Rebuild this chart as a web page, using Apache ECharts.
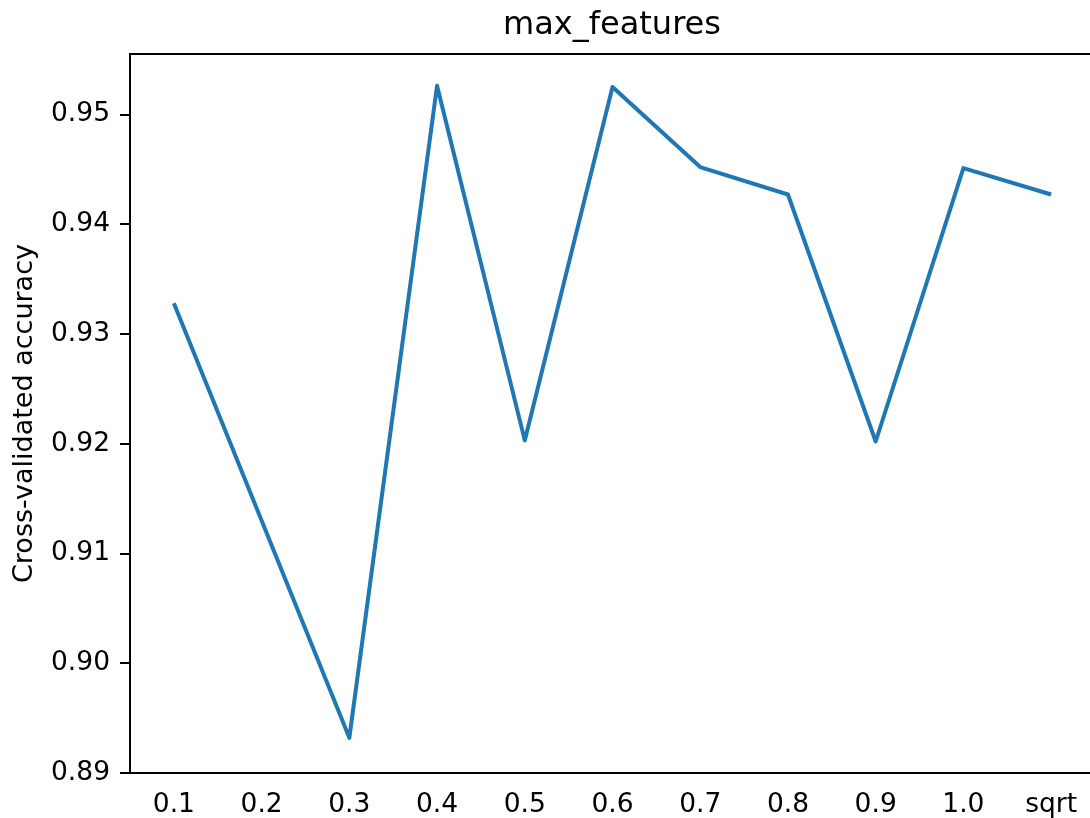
<!DOCTYPE html>
<html>
<head>
<meta charset="utf-8">
<script src="https://cdn.jsdelivr.net/npm/echarts@6/dist/echarts.min.js"></script>
<style>
html, body { margin: 0; padding: 0; background: #fff; }
#chart { width: 1090px; height: 818px; }
</style>
</head>
<body>
<div id="chart"></div>
<script>
const categories = ['0.1', '0.2', '0.3', '0.4', '0.5', '0.6', '0.7', '0.8', '0.9', '1.0', 'sqrt'];
const accuracy = [0.9328, 0.9130, 0.8932, 0.9526, 0.9203, 0.9525, 0.9452, 0.9427, 0.9202, 0.9451, 0.9427];
const yTicks = [0.89, 0.90, 0.91, 0.92, 0.93, 0.94, 0.95];
const titleText = 'max_features';
const yAxisTitle = 'Cross-validated accuracy';

const FONT = 'DejaVu Sans';
const chart = echarts.init(document.getElementById('chart'), null, { renderer: 'canvas' });
chart.setOption({
  animation: false,
  backgroundColor: '#ffffff',
  title: {
    text: titleText,
    left: 612,
    top: 10,
    padding: 0,
    textAlign: 'center',
    textStyle: { fontFamily: FONT, fontSize: 32, fontWeight: 'normal', color: '#000' }
  },
  grid: {
    left: 130, right: -5, top: 54, bottom: 45,
    outerBoundsMode: 'none',
    containLabel: false,
    show: true, borderColor: '#000', borderWidth: 2, backgroundColor: 'transparent'
  },
  xAxis: {
    type: 'category',
    data: categories,
    boundaryGap: true,
    axisLine: { lineStyle: { color: '#000', width: 2 } },
    axisTick: { alignWithLabel: true, length: 10, lineStyle: { color: '#000', width: 2 } },
    axisLabel: { fontFamily: FONT, fontSize: 26.5, color: '#000', margin: 19, interval: 0 },
    splitLine: { show: false }
  },
  yAxis: {
    type: 'value',
    min: 0.89,
    max: 0.9555,
    name: yAxisTitle,
    nameLocation: 'middle',
    nameGap: 92,
    nameTextStyle: { fontFamily: FONT, fontSize: 27, color: '#000' },
    axisLine: { show: true, lineStyle: { color: '#000', width: 2 } },
    axisTick: { show: true, length: 10, customValues: yTicks, lineStyle: { color: '#000', width: 2 } },
    axisLabel: {
      fontFamily: FONT, fontSize: 26.5, color: '#000', margin: 20,
      customValues: yTicks,
      formatter: v => v.toFixed(2)
    },
    splitLine: { show: false }
  },
  series: [{
    type: 'line',
    data: accuracy,
    symbol: 'none',
    lineStyle: { color: '#1f77b4', width: 4, join: 'round', cap: 'butt' },
    itemStyle: { color: '#1f77b4' }
  }]
});
</script>
</body>
</html>
